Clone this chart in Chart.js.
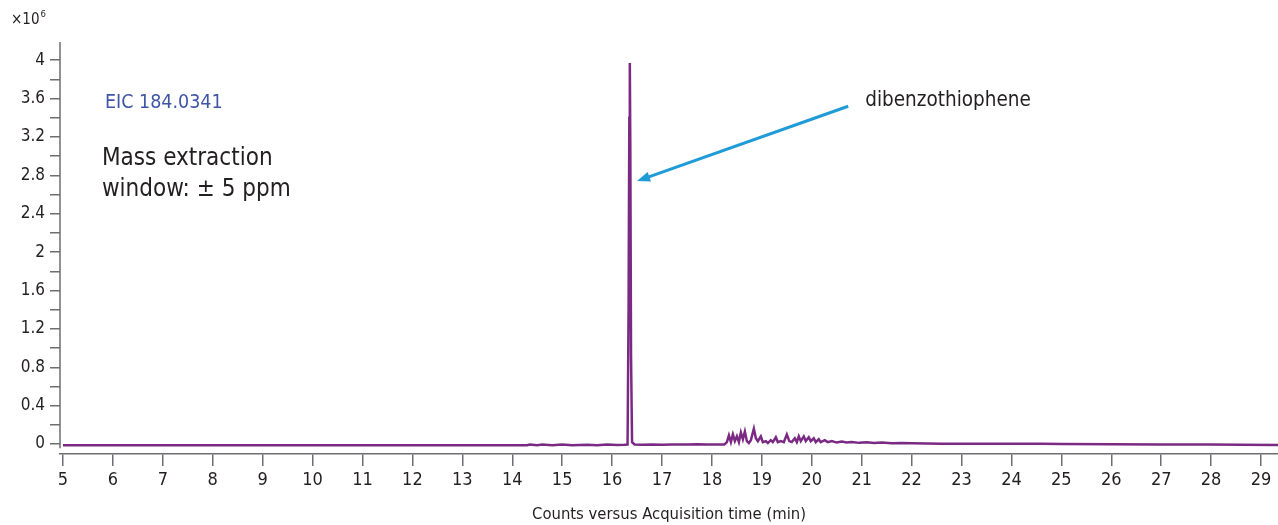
<!DOCTYPE html>
<html>
<head>
<meta charset="utf-8">
<script src="https://cdn.jsdelivr.net/npm/chart.js@4.4.1/dist/chart.umd.min.js"></script>
<style>
  html, body { margin: 0; padding: 0; background: #fff; }
  #wrap { width: 1278px; height: 525px; position: relative; }
</style>
</head>
<body>
<div id="wrap"><canvas id="eic"></canvas></div>
<script>
// Acquisition time (min) and counts (x10^6)
const times = [
  5.0, 14.3, 14.35, 14.5, 14.6, 14.8, 15.0, 15.2, 15.5, 15.7, 15.9, 16.1, 16.25,
  16.31, 16.33, 16.345, 16.355, 16.365, 16.38, 16.4, 16.45,
  16.6, 16.8, 17.0, 17.2, 17.5, 17.7, 17.9, 18.1, 18.25,
  18.3, 18.34, 18.38, 18.42, 18.46, 18.5, 18.54, 18.58, 18.62, 18.66, 18.7, 18.74, 18.78,
  18.84, 18.88, 18.92, 18.98, 19.02, 19.08, 19.12, 19.18, 19.22, 19.28, 19.32, 19.38, 19.44,
  19.5, 19.55, 19.6, 19.66, 19.7, 19.74, 19.78, 19.84, 19.88, 19.94, 19.98, 20.04, 20.08,
  20.14, 20.18, 20.26, 20.32, 20.4, 20.5, 20.6, 20.7, 20.8, 20.95, 21.1, 21.25, 21.4, 21.6,
  21.8, 22.0, 22.3, 22.6, 23.0, 23.5, 24.0, 24.6, 25.0, 26.0, 27.0, 27.4, 28.0, 28.6, 29.34
];
const counts = [
  -0.012, -0.012, -0.005, -0.012, -0.006, -0.012, -0.004, -0.012, -0.008, -0.012, -0.006, -0.01, -0.008,
  -0.005, 1.4, 3.4, 3.97, 3.1, 0.9, 0.02, -0.005,
  -0.008, -0.004, -0.008, -0.004, -0.006, -0.002, -0.005, -0.004, -0.004,
  0.02, 0.09, 0.02, 0.1, 0.03, 0.08, 0.02, 0.12, 0.05, 0.13, 0.03, 0.01, 0.04,
  0.16, 0.06, 0.03, 0.08, 0.02, 0.03, 0.01, 0.04, 0.02, 0.07, 0.02, 0.03, 0.02,
  0.1, 0.03, 0.02, 0.06, 0.02, 0.08, 0.03, 0.08, 0.03, 0.07, 0.03, 0.06, 0.02,
  0.05, 0.02, 0.04, 0.02, 0.03, 0.015, 0.025, 0.015, 0.02, 0.012, 0.018, 0.01, 0.015, 0.008,
  0.01, 0.008, 0.005, 0.004, 0.003, 0.004, 0.003, 0.002, 0.0, -0.003, -0.005, -0.006, -0.004, -0.008, -0.01
];
const xTicks = [5, 6, 7, 8, 9, 10, 11, 12, 13, 14, 15, 16, 17, 18, 19, 20, 21, 22, 23, 24, 25, 26, 27, 28, 29];
const yTicks = [0, 0.4, 0.8, 1.2, 1.6, 2, 2.4, 2.8, 3.2, 3.6, 4];

const FONT = "'Liberation Sans Narrow', 'DejaVu Sans Condensed', 'Roboto', sans-serif";
const INK = '#231f20';
const AXIS = '#6d6e71';

// y axis line (stops short of the x axis) plus text + arrow annotations in data coordinates
const notes = {
  id: 'notes',
  afterDraw(chart) {
    const { ctx, chartArea, scales: { x, y } } = chart;
    ctx.save();

    ctx.strokeStyle = AXIS;
    ctx.lineWidth = 1.5;
    ctx.beginPath();
    ctx.moveTo(chartArea.left, chartArea.top);
    ctx.lineTo(chartArea.left, y.getPixelForValue(-0.045));
    ctx.stroke();

    ctx.textBaseline = 'middle';
    ctx.textAlign = 'left';

    ctx.fillStyle = '#3f56a6';
    ctx.font = '19.5px ' + FONT;
    ctx.fillText('EIC 184.0341', x.getPixelForValue(5.84), y.getPixelForValue(3.56));

    ctx.fillStyle = INK;
    ctx.font = '24px ' + FONT;
    ctx.fillText('Mass extraction', x.getPixelForValue(5.78), y.getPixelForValue(2.97));
    ctx.fillText('window: \u00b1 5 ppm', x.getPixelForValue(5.78), y.getPixelForValue(2.65));

    ctx.font = '20.5px ' + FONT;
    ctx.fillText('dibenzothiophene', x.getPixelForValue(21.07), y.getPixelForValue(3.58));

    // arrow
    const x1 = x.getPixelForValue(20.73), y1 = y.getPixelForValue(3.52);
    const x2 = x.getPixelForValue(16.5), y2 = y.getPixelForValue(2.74);
    const ang = Math.atan2(y2 - y1, x2 - x1);
    ctx.strokeStyle = '#1f9bd7';
    ctx.fillStyle = '#1f9bd7';
    ctx.lineWidth = 3;
    ctx.beginPath();
    ctx.moveTo(x1, y1);
    ctx.lineTo(x2 - 8 * Math.cos(ang), y2 - 8 * Math.sin(ang));
    ctx.stroke();
    ctx.beginPath();
    ctx.moveTo(x2, y2);
    ctx.lineTo(x2 - 13 * Math.cos(ang) + 5 * Math.sin(ang), y2 - 13 * Math.sin(ang) - 5 * Math.cos(ang));
    ctx.lineTo(x2 - 13 * Math.cos(ang) - 5 * Math.sin(ang), y2 - 13 * Math.sin(ang) + 5 * Math.cos(ang));
    ctx.closePath();
    ctx.fill();

    // x10^6 multiplier
    ctx.fillStyle = INK;
    ctx.font = '15px ' + FONT;
    ctx.fillText('\u00d710', 11, 20);
    const w = ctx.measureText('\u00d710').width;
    ctx.font = '9.5px ' + FONT;
    ctx.fillText('6', 11 + w + 1, 15);
    ctx.restore();
  }
};

new Chart(document.getElementById('eic'), {
  type: 'line',
  data: {
    datasets: [{
      data: times.map((t, i) => ({ x: t, y: counts[i] })),
      borderColor: '#7b2a83',
      borderWidth: 2.5,
      pointRadius: 0,
      tension: 0,
      fill: false
    }]
  },
  options: {
    responsive: true,
    maintainAspectRatio: false,
    animation: false,
    layout: { padding: { top: 42, right: 0, left: 0, bottom: 0 } },
    plugins: { legend: { display: false }, tooltip: { enabled: false } },
    scales: {
      x: {
        type: 'linear',
        min: 4.94,
        max: 29.34,
        afterBuildTicks: s => { s.ticks = xTicks.map(v => ({ value: v })); },
        afterFit: s => { s.height = 71; },
        grid: { drawOnChartArea: false, drawTicks: true, tickLength: 12, color: AXIS, lineWidth: 1.5 },
        border: { display: true, color: AXIS, width: 1.5 },
        ticks: { color: INK, font: { family: FONT, size: 18 }, padding: 4, maxRotation: 0, autoSkip: false },
        title: { display: true, text: 'Counts versus Acquisition time (min)', color: INK, font: { family: FONT, size: 16.5 }, padding: { top: 6, bottom: 0 } }
      },
      y: {
        type: 'linear',
        min: -0.104,
        max: 4.19,
        afterBuildTicks: s => {
          const t = [];
          for (const v of yTicks) { t.push({ value: v }); if (v < 4) t.push({ value: v + 0.2 }); }
          s.ticks = t;
        },
        afterFit: s => { s.width = 60; },
        grid: { drawOnChartArea: false, drawTicks: true, tickLength: 10, color: AXIS, lineWidth: 1.5 },
        border: { display: false },
        ticks: {
          color: INK,
          font: { family: FONT, size: 17 },
          padding: 5,
          autoSkip: false,
          callback: v => yTicks.some(k => Math.abs(k - v) < 1e-6) ? String(Math.round(v * 10) / 10) : ''
        }
      }
    }
  },
  plugins: [notes]
});
</script>
</body>
</html>
